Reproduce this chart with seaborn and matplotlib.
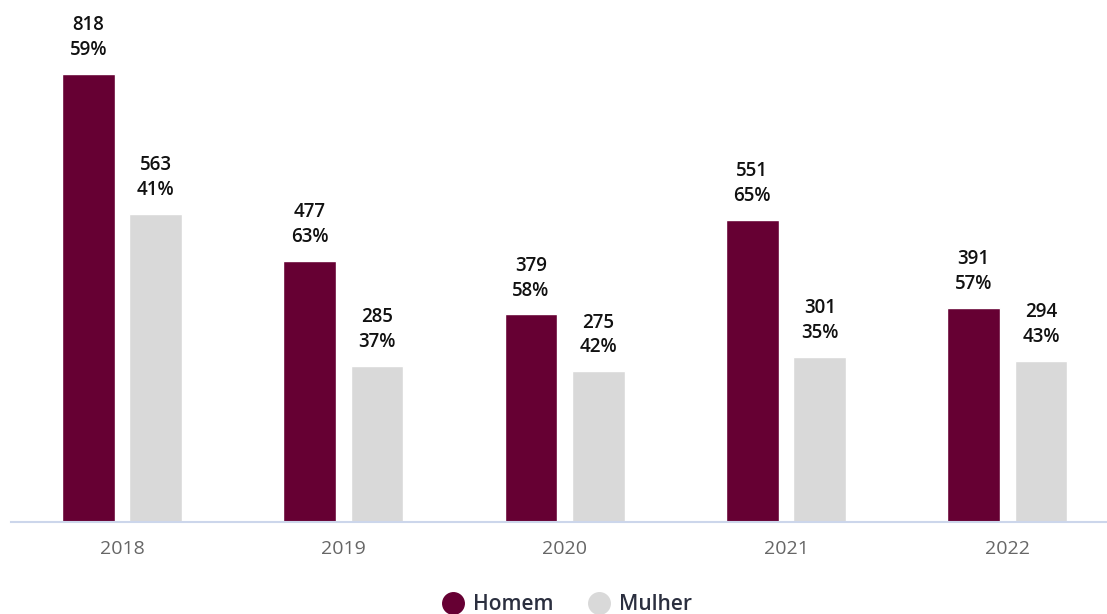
import matplotlib

matplotlib.use("Agg")
import matplotlib.pyplot as plt
from matplotlib.lines import Line2D
import pandas as pd
import seaborn as sns

YEARS = ["2018", "2019", "2020", "2021", "2022"]
HOMEM = [818, 477, 379, 551, 391]
MULHER = [563, 285, 275, 301, 294]
HOMEM_PCT = ["59%", "63%", "58%", "65%", "57%"]
MULHER_PCT = ["41%", "37%", "42%", "35%", "43%"]

COLORS = {"Homem": "#660033", "Mulher": "#d9d9d9"}

sns.set_theme(style="white")
plt.rcParams["font.family"] = ["Open Sans", "DejaVu Sans"]

df = pd.DataFrame(
    {
        "Ano": YEARS * 2,
        "Valor": HOMEM + MULHER,
        "Sexo": ["Homem"] * len(YEARS) + ["Mulher"] * len(YEARS),
        "Pct": HOMEM_PCT + MULHER_PCT,
    }
)

fig = plt.figure(figsize=(11.07, 6.14), dpi=100)
ax = fig.add_axes([0.01, 92 / 614, 0.99, 522 / 614])

sns.barplot(
    data=df,
    x="Ano",
    y="Valor",
    hue="Sexo",
    palette=COLORS,
    width=0.61,
    gap=0.22,
    ax=ax,
    legend=False,
    saturation=1,
)

# value + percentage labels above each bar
for container, sexo in zip(ax.containers, ["Homem", "Mulher"]):
    sub = df[df["Sexo"] == sexo].reset_index(drop=True)
    labels = [f"{v}\n{p}" for v, p in zip(sub["Valor"], sub["Pct"])]
    ax.bar_label(
        container,
        labels=labels,
        padding=10,
        fontsize=13.5,
        fontweight="semibold",
        color="#111111",
        linespacing=1.33,
    )

ax.set_ylim(0, 953)
ax.set_xlim(-0.501, 4.45)
ax.set_xlabel("")
ax.set_ylabel("")
ax.set_yticks([])
for side in ["top", "right", "left"]:
    ax.spines[side].set_visible(False)
ax.spines["bottom"].set_color("#ccd6eb")
ax.spines["bottom"].set_linewidth(1.5)
ax.tick_params(axis="x", length=0, pad=13, labelsize=14, labelcolor="#666666")

handles = [
    Line2D([], [], marker="o", linestyle="", markersize=15.5,
           markerfacecolor=COLORS[k], markeredgecolor=COLORS[k], label=k)
    for k in ["Homem", "Mulher"]
]
fig.legend(
    handles=handles,
    loc="center",
    bbox_to_anchor=(563 / 1107, 1 - 605 / 614),
    ncol=2,
    frameon=False,
    prop={"weight": "semibold", "size": 15},
    handlelength=1.8,
    handletextpad=0.05,
    columnspacing=1.3,
    labelcolor="#2b2f3f",
)

fig.savefig("out.png", dpi=100)
